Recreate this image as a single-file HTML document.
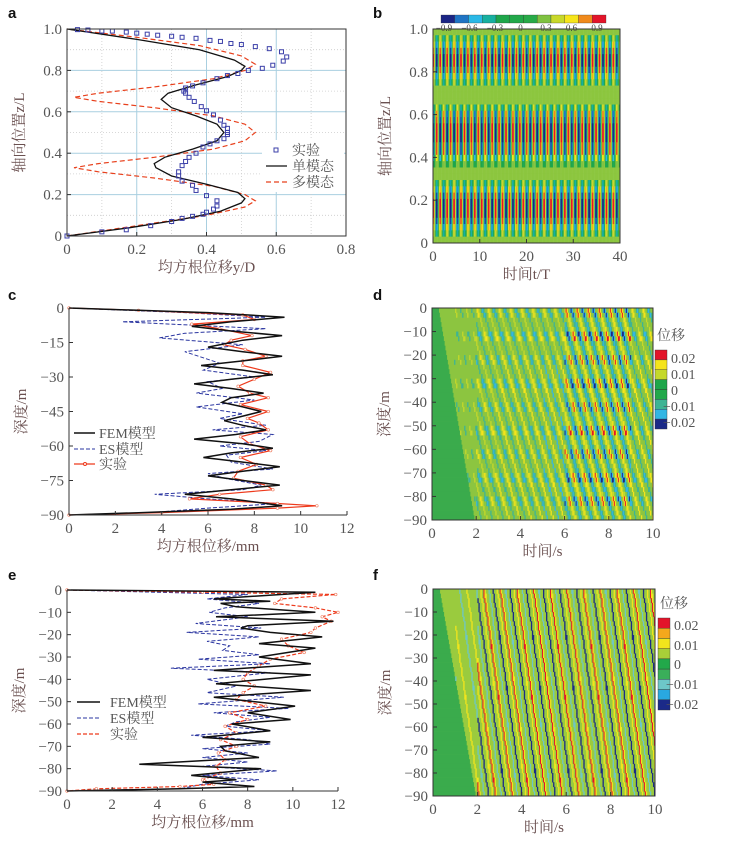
<!DOCTYPE html>
<html><head><meta charset="utf-8"><style>
html,body{margin:0;padding:0;background:#fff;}
svg{display:block;}
text{font-family:"Liberation Serif","Noto Serif CJK SC","Noto Sans CJK SC",serif;}
.tk{font-size:15px;fill:#555;}
.tt{font-size:15px;fill:#6a5050;}
.lt{font-family:"Liberation Sans",sans-serif;font-weight:bold;font-size:15px;fill:#111;}
.lg{font-size:14px;fill:#555;}
</style></head><body>
<svg id="fig" width="730" height="841" viewBox="0 0 730 841" xmlns="http://www.w3.org/2000/svg">
<text class="lt" x="8" y="18">a</text>
<text class="lt" x="373" y="18">b</text>
<text class="lt" x="8" y="300">c</text>
<text class="lt" x="373" y="300">d</text>
<text class="lt" x="8" y="580">e</text>
<text class="lt" x="373" y="580">f</text>
<g id="pa"></g>
<g id="pb"></g>
<g id="pc"></g>
<g id="pd"></g>
<g id="pe"></g>
<g id="pf"></g>
</svg>
<script>
// ---- Panel a data ----
const aSingleZ=[0,0.04,0.08,0.12,0.16,0.18,0.21,0.25,0.29,0.33,0.35,0.38,0.42,0.46,0.5,0.54,0.58,0.62,0.66,0.69,0.73,0.77,0.8,0.82,0.85,0.9,0.95,1.0];
const aSingleX=[0,0.18,0.33,0.44,0.5,0.51,0.49,0.4,0.3,0.255,0.25,0.28,0.36,0.43,0.45,0.43,0.37,0.3,0.27,0.29,0.37,0.46,0.5,0.51,0.48,0.38,0.2,0];
const aMultiZ=[0,0.05,0.1,0.14,0.17,0.2,0.24,0.28,0.31,0.33,0.35,0.38,0.42,0.46,0.5,0.54,0.58,0.62,0.65,0.67,0.69,0.72,0.76,0.8,0.83,0.87,0.92,0.96,1];
const aMultiX=[0,0.2,0.4,0.51,0.54,0.51,0.42,0.25,0.09,0.02,0.09,0.25,0.42,0.51,0.54,0.51,0.42,0.25,0.09,0.02,0.09,0.25,0.42,0.51,0.54,0.5,0.38,0.2,0];
const aExpX=[0.1,0.17,0.24,0.3,0.33,0.36,0.39,0.4,0.42,0.43,0.43,0.4,0.37,0.36,0.33,0.32,0.32,0.33,0.34,0.35,0.37,0.39,0.41,0.43,0.45,0.46,0.46,0.46,0.45,0.44,0.42,0.4,0.385,0.365,0.35,0.34,0.335,0.34,0.36,0.39,0.43,0.46,0.49,0.52,0.56,0.59,0.62,0.63,0.615,0.58,0.54,0.5,0.47,0.44,0.41,0.37,0.33,0.3,0.26,0.23,0.2,0.17,0.13,0.1,0.06,0.03,0];
const aExpZ=[0.02,0.03,0.05,0.07,0.085,0.095,0.105,0.115,0.13,0.145,0.17,0.195,0.22,0.245,0.265,0.29,0.31,0.34,0.36,0.38,0.4,0.43,0.445,0.46,0.47,0.49,0.5,0.52,0.535,0.56,0.585,0.605,0.625,0.65,0.67,0.69,0.7,0.715,0.725,0.74,0.76,0.775,0.785,0.8,0.81,0.825,0.845,0.865,0.89,0.905,0.915,0.925,0.93,0.94,0.945,0.955,0.96,0.965,0.97,0.975,0.98,0.985,0.99,0.99,0.995,0.997,0];
const aXTicks=[0,0.2,0.4,0.6,0.8];
const aYTicks=[0,0.2,0.4,0.6,0.8,1.0];
// ---- Panel b data ----
const bRowAmp=[0.1,0.4,0.75,0.95,1,1,0.9,0.7,0.45,0.2,0.1,0.2,-0.5,-0.8,-0.95,-1,-1,-1,-0.95,-0.85,-0.6,-0.3,0.1,0.2,0.45,0.75,0.95,1,1,1,0.9,0.7,0.45,0.2]; // top to bottom
const bWave=[1,0.85,0.5,0.1,-0.5,-0.85,-1,-0.85,-0.5,-0.1,0.5,0.85];
const bXTicks=[0,10,20,30,40];
const bYTicks=[0,0.2,0.4,0.6,0.8,1.0];
const bCbar=["-0.9","-0.6","-0.3","0","0.3","0.6","0.9"];
// ---- Panel c data ----
const cFemD=[0,-2,-4,-6,-8,-10,-12,-14,-17,-19,-21,-23,-25,-27,-29,-31,-33,-35,-37,-39,-41,-43,-45,-47,-49,-51,-53,-55,-57,-59,-61,-63,-65,-67,-69,-71,-73,-75,-77,-79,-81,-83,-85,-86,-87.5,-89,-90];
const cFemX=[0,6,9.3,7,5.3,7,9.2,7.5,6,7.5,9.2,7.5,5.7,7.5,8.8,7,5.4,7,8.4,7,6.6,7.5,8.3,7.5,6.7,7.5,8.5,7.2,5.4,7.5,8.8,7,5.8,7.5,9.1,7.5,6,7.5,9.1,7,5,7,8.5,9.2,7,3,0];
const cEsD=[0,-2,-4,-6,-9,-11,-13,-16,-19,-21,-24,-27,-30,-32,-35,-37,-40,-43,-46,-48,-51,-53,-55,-58,-60,-62,-64,-67,-70,-72,-74,-77,-79,-81,-83,-85,-87,-89,-90];
const cEsX=[0,5,8.5,2.3,8.5,5,3.9,7.5,5,5.6,6.5,5.8,8,6,6.6,5.5,8,5.5,7.5,6.5,8.5,6.2,8.8,8.2,6.5,8.5,6.8,7,8.8,6,6.7,8.3,7.5,3.7,6,9,6,3.5,0];
const cExpD=[0,-1,-3,-5,-7,-9,-12,-14,-16,-18,-21,-23,-25,-28,-31,-34,-37,-39,-42,-45,-48,-50,-53,-56,-59,-62,-65,-68,-71,-74,-77,-79,-81,-83,-85,-86,-87,-89,-90];
const cExpX=[0,3,7.5,8,5.3,6.5,7.9,7,6.7,7.6,8.5,7.5,7.5,8.7,8,7.3,7.8,8.6,7.4,8.6,7.7,8.2,8.6,7.4,7.8,8.7,7.4,8.1,7.3,7.1,8.5,8.8,6.5,5.2,9,10.7,9,4,0];
const cXTicks=[0,2,4,6,8,10,12];
const cYTicks=[0,-15,-30,-45,-60,-75,-90];
// ---- Panel e data ----
const eFemD=[0,-1,-4,-5,-6,-7.5,-10,-12,-14,-16,-17,-19,-21,-24,-26,-30,-33,-36,-38,-42,-45,-48,-52,-55,-58,-60,-63,-66,-68,-70,-72,-75,-78,-80,-83,-85,-86,-88,-89,-90];
const eFemX=[0,11,6.5,9,6.8,7.5,11,6.6,11.8,8,7.7,9,11.3,8.5,11,8.5,10.8,6.5,10.8,6.6,10.8,6.5,10.1,8,9.9,7.3,9,6,9,6.8,7,8.5,3.2,8.6,5.5,7.5,6,8.3,5,0];
const eEsD=[0,-2,-4,-6,-8,-10,-12,-15,-17,-19,-21,-23,-25,-27,-29,-31,-33,-35,-37,-40,-43,-46,-48,-51,-53,-55,-57,-59,-61,-63,-65,-67,-69,-71,-73,-75,-77,-79,-81,-83,-85,-87,-89,-90];
const eEsX=[0,8,6.2,8.5,7,6.3,8,5.7,8.6,5.3,8.5,6.2,7.2,6.9,8.5,5.8,9,4.6,9,6.2,7.5,6.2,9.6,5.8,9.8,6.5,9,7.5,7,9,5.5,8,9,6,8,6,8,6,9.3,6,8.5,6,5,0];
const eExpD=[0,-1,-2,-4,-6,-8,-10,-12,-14,-17,-19,-22,-25,-28,-31,-34,-37,-40,-43,-46,-49,-52,-55,-58,-61,-64,-67,-70,-73,-76,-79,-82,-85,-87,-88,-89,-90];
const eExpX=[0,6,11.9,9.5,9.2,11,12,11.3,11.7,11,10.8,9.5,9.8,10.5,9,8.5,8,7.8,8.3,7.8,7.5,8.8,7.2,8,7,7.5,6.8,7.5,6.7,7,6.6,6.8,6,6.5,5,1.3,0];
const eXTicks=[0,2,4,6,8,10,12];
const eYTicks=[0,-10,-20,-30,-40,-50,-60,-70,-80,-90];
// ---- Panels d/f data ----
const dTimeAmp=[0.1,0.45,0.65,0.7,0.7,0.75,1,1,0.95,0.7,0.95];
const dDepthBand=[1,0.6,1,0.6,1,0.65,1,0.65,1,0.65,1,0.65,1,0.65,1,0.65,1,0.65];
const fTimeAmp=[0.2,0.7,1,0.95,0.95,0.95,0.95,0.95,0.95,0.95,0.95];
const dWave=[1,0.6,0.1,-0.1,-0.6,-0.95,-0.6,-0.1,0.1,0.6];
const fWave=[1,0.6,0,0,0,-0.6,0,0,0,-1,0,0,0,0.6,0,0];
const dfXTicks=[0,2,4,6,8,10];
const dfYTicks=[0,-10,-20,-30,-40,-50,-60,-70,-80,-90];
const dfCbarLabels=["0.02","0.01","0","\u22120.01","\u22120.02"];

const NS="http://www.w3.org/2000/svg";
function el(parent,tag,attrs,txt){const e=document.createElementNS(NS,tag);for(const k in attrs)e.setAttribute(k,attrs[k]);if(txt!==undefined)e.textContent=txt;parent.appendChild(e);return e;}
function lin(d0,d1,p0,p1){return v=>p0+(v-d0)*(p1-p0)/(d1-d0);}
function fmt(v){return (v<0?"\u2212":"")+Math.abs(v);}
function poly(xs,ys,sx,sy){return xs.map((x,i)=>sx(x).toFixed(1)+","+sy(ys[i]).toFixed(1)).join(" ");}

function axes(g,L,R,T,B,sx,sy,xt,yt,xlab,ylab,xfmt){
  el(g,'rect',{x:L,y:T,width:R-L,height:B-T,fill:'none',stroke:'#333','stroke-width':1});
  const xa=el(g,'g',{});
  xt.forEach(v=>{const x=sx(v);el(xa,'line',{x1:x,x2:x,y1:B,y2:B-4,stroke:'#333'});
    const t=el(xa,'text',{x:x,y:B+18,'text-anchor':'middle',class:'tk'},xfmt?xfmt(v):fmt(v));});
  const ya=el(g,'g',{});
  yt.forEach(v=>{const y=sy(v);el(ya,'line',{x1:L,x2:L+4,y1:y,y2:y,stroke:'#333'});
    const t=el(ya,'text',{x:L-5,y:y+5,'text-anchor':'end',class:'tk'},xfmt?xfmt(v):fmt(v));});
  const xl=el(g,'text',{x:(L+R)/2,y:B+36,'text-anchor':'middle',class:'tt'},xlab);
  const yl=el(g,'text',{x:0,y:0,'text-anchor':'middle',class:'tt',transform:`translate(${L-43},${(T+B)/2}) rotate(-90)`},ylab);
}
function dec1(v){return v===0?"0":v.toFixed(1);}

// ===== Panel a =====
(function(){
 const g=document.getElementById('pa');const L=67,R=346,T=29,B=236;
 const sx=lin(0,0.8,L,R),sy=lin(0,1,B,T);
 [0.2,0.4,0.6].forEach(v=>el(g,'line',{x1:sx(v),x2:sx(v),y1:T,y2:B,stroke:'#a9cfe0','stroke-width':1}));
 [0.2,0.4,0.6,0.8].forEach(v=>el(g,'line',{x1:L,x2:R,y1:sy(v),y2:sy(v),stroke:'#a9cfe0','stroke-width':1}));
 [0.1,0.3,0.5,0.7,0.9].forEach(v=>el(g,'line',{x1:L,x2:R,y1:sy(v),y2:sy(v),stroke:'#ccc','stroke-width':0.8,'stroke-dasharray':'1,2'}));
 [0.1,0.3,0.5,0.7].forEach(v=>el(g,'line',{x1:sx(v),x2:sx(v),y1:T,y2:B,stroke:'#ccc','stroke-width':0.8,'stroke-dasharray':'1,2'}));
 el(g,'rect',{x:262,y:140,width:82,height:52,fill:'#fff'});
 const m=el(g,'polyline',{points:poly(aMultiX,aMultiZ,sx,sy),fill:'none',stroke:'#e8401c','stroke-width':1.2,'stroke-dasharray':'5,3'});
 
 const s=el(g,'polyline',{points:poly(aSingleX,aSingleZ,sx,sy),fill:'none',stroke:'#111','stroke-width':1.3});
 
 aExpX.forEach((x,i)=>{const r=el(g,'rect',{x:sx(x)-2,y:sy(aExpZ[i])-2,width:4,height:4,fill:'none',stroke:'#3b3fa8','stroke-width':1});
   });
 axes(g,L,R,T,B,sx,sy,aXTicks,aYTicks,'均方根位移y/D','轴向位置z/L',dec1);
 g.querySelector('rect').setAttribute('stroke','none');
 el(g,'line',{x1:L,x2:L,y1:T,y2:B,stroke:'#333'});el(g,'line',{x1:L,x2:R,y1:B,y2:B,stroke:'#333'});
 const lg=el(g,'g',{});
 el(lg,'rect',{x:274,y:148,width:4,height:4,fill:'none',stroke:'#3b3fa8'});
 el(lg,'text',{x:292,y:155,class:'lg'},'实验');
 el(lg,'line',{x1:266,x2:287,y1:166,y2:166,stroke:'#111','stroke-width':1.3});
 el(lg,'text',{x:292,y:171,class:'lg'},'单模态');
 el(lg,'line',{x1:266,x2:287,y1:182,y2:182,stroke:'#e8401c','stroke-width':1.2,'stroke-dasharray':'5,3'});
 el(lg,'text',{x:292,y:187,class:'lg'},'多模态');
})();

// ===== Panel b =====
(function(){
 const g=document.getElementById('pb');const L=433,R=620,T=29,B=243;
 const sx=lin(0,40,L,R),sy=lin(0,1,B,T);
 const pal=['#1b2585','#1f74c4','#2ab8e6','#17b0a0','#1ea64a','#22a84a','#8cc63f','#7fc241','#c8d82a','#f6e51b','#f08a1c','#e3142a'];
 function col(v,amp){if(Math.abs(amp)<0.25)return '#8cc63f';let i=Math.floor((v+1)/2*12);return pal[Math.max(0,Math.min(11,i))];}
 const hm=el(g,'g',{});
 const nc=324,nr=bRowAmp.length,cw=(R-L)/nc,rh=(B-T)/nr;
 for(let r=0;r<nr;r++)for(let c=0;c<nc;c++){
   const v=bRowAmp[r]*bWave[c%bWave.length];
   el(hm,'rect',{x:(L+c*cw).toFixed(2),y:(T+r*rh).toFixed(2),width:(cw+0.3).toFixed(2),height:(rh+0.3).toFixed(2),fill:col(v,bRowAmp[r])});
 }
 axes(g,L,R,T,B,sx,sy,bXTicks,bYTicks,'时间t/T','轴向位置z/L',v=>v===0?'0':(v>=10?String(v):v.toFixed(1)));
 const cb=el(g,'g',{});
 const cx0=441,cx1=606,cwid=(cx1-cx0)/12;
 const cpal=['#1b2585','#1f74c4','#2ab8e6','#17b0a0','#1ea64a','#22a84a','#28aa48','#7fc241','#c8d82a','#f6e51b','#f08a1c','#e3142a'];
 cpal.forEach((p,i)=>el(cb,'rect',{x:cx0+i*cwid,y:15,width:cwid,height:8,fill:p,stroke:'#333','stroke-width':0.3}));
 bCbar.forEach((t,i)=>el(cb,'text',{x:cx0+3+i*(cx1-cx0-12)/6,y:31,'text-anchor':'middle',style:'font-size:9px;fill:#444'},t.replace('-','\u2212')));
})();

// ===== line panels c,e =====
function linePanel(id,L,R,T,B,xt,yt,fem,es,exp,expDash){
 const g=document.getElementById(id);
 const sx=lin(0,12,L,R),sy=lin(0,-90,T,B);
 const e1=el(g,'polyline',{points:poly(es[1],es[0],sx,sy),fill:'none',stroke:'#2a35a0','stroke-width':1,'stroke-dasharray':'4,2'});
 
 const e2=el(g,'polyline',{points:poly(exp[1],exp[0],sx,sy),fill:'none',stroke:'#ee3a1c','stroke-width':1.2,'stroke-dasharray':expDash||'none'});
 
 exp[1].forEach((x,i)=>el(g,'circle',{cx:sx(x),cy:sy(exp[0][i]),r:1.3,fill:'#fff',stroke:'#ee7a5c','stroke-width':0.6}));
 const e3=el(g,'polyline',{points:poly(fem[1],fem[0],sx,sy),fill:'none',stroke:'#111','stroke-width':1.5});
 
 axes(g,L,R,T,B,sx,sy,xt,yt,'均方根位移/mm','深度/m');
 g.querySelector('rect').setAttribute('stroke','none');
 el(g,'line',{x1:L,x2:L,y1:T,y2:B,stroke:'#333'});el(g,'line',{x1:L,x2:R,y1:B,y2:B,stroke:'#333'});
 return g;
}
(function(){
 const g=linePanel('pc',69,347,308,515,cXTicks,cYTicks,[cFemD,cFemX],[cEsD,cEsX],[cExpD,cExpX]);
 const lg=el(g,'g',{});
 el(lg,'line',{x1:74,x2:95,y1:433,y2:433,stroke:'#111','stroke-width':1.5});el(lg,'text',{x:99,y:438,class:'lg'},'FEM模型');
 el(lg,'line',{x1:74,x2:95,y1:449,y2:449,stroke:'#2a35a0','stroke-dasharray':'4,2'});el(lg,'text',{x:99,y:454,class:'lg'},'ES模型');
 el(lg,'line',{x1:74,x2:95,y1:464,y2:464,stroke:'#ee3a1c','stroke-width':1.2});el(lg,'circle',{cx:85,cy:464,r:1.5,fill:'#fff',stroke:'#ee3a1c'});el(lg,'text',{x:99,y:469,class:'lg'},'实验');
})();
(function(){
 const g=linePanel('pe',67,338,590,791,eXTicks,eYTicks,[eFemD,eFemX],[eEsD,eEsX],[eExpD,eExpX],'4,2');
 const lg=el(g,'g',{});
 el(lg,'line',{x1:77,x2:100,y1:702,y2:702,stroke:'#111','stroke-width':1.5});el(lg,'text',{x:110,y:707,class:'lg'},'FEM模型');
 el(lg,'line',{x1:77,x2:100,y1:718,y2:718,stroke:'#2a35a0','stroke-dasharray':'4,2'});el(lg,'text',{x:110,y:723,class:'lg'},'ES模型');
 el(lg,'line',{x1:77,x2:100,y1:734,y2:734,stroke:'#ee3a1c','stroke-width':1.2,'stroke-dasharray':'4,2'});el(lg,'text',{x:110,y:739,class:'lg'},'实验');
})();

// ===== heatmaps d,f =====
function dfPanel(id,L,R,T,B,timeAmp,band,wave,period,slope,pal,cb,cbLabY){
 const g=document.getElementById(id);
 const sx=lin(0,10,L,R),sy=lin(0,-90,T,B);
 const hm=el(g,'g',{});
 el(hm,'rect',{x:L,y:T,width:R-L,height:B-T,fill:pal.bg});
 const nc=220,nr=45,cw=(R-L)/nc,rh=(B-T)/nr;
 for(let r=0;r<nr;r++){const depth=(r+0.5)*90/nr;
  const arrive=0.3+depth/55;
  el(hm,'rect',{x:L,y:(T+r*rh).toFixed(2),width:(arrive*(R-L)/10).toFixed(2),height:(rh+0.3).toFixed(2),fill:pal.early});
  for(let c=0;c<nc;c++){const t=(c+0.5)*10/nc;
   if(t<arrive)continue;
   const amp=timeAmp[Math.min(10,Math.floor(t))]*(band?band[Math.floor(depth/5)%band.length]:1);
   const ph=(t-depth*slope)/period;
   const idx=((Math.floor(ph*wave.length))%wave.length+wave.length)%wave.length;
   const v=amp*wave[idx];
   const f=pal.map(v);
   if(f)el(hm,'rect',{x:(L+c*cw).toFixed(2),y:(T+r*rh).toFixed(2),width:(cw+0.3).toFixed(2),height:(rh+0.3).toFixed(2),fill:f});
 }}
 axes(g,L,R,T,B,sx,sy,dfXTicks,dfYTicks,'时间/s','深度/m');
 const c=el(g,'g',{});
 const h=(cb.y1-cb.y0)/cb.cols.length;
 cb.cols.forEach((p,i)=>el(c,'rect',{x:cb.x,y:cb.y0+i*h,width:12,height:h,fill:p,stroke:'#333','stroke-width':0.4}));
 el(c,'text',{x:cb.x+2,y:cb.y0-10,class:'lg'},'位移');
 dfCbarLabels.forEach((t,i)=>el(c,'text',{x:cb.x+(t.startsWith('\u2212')?8:16),y:cbLabY[i],class:'tk',style:'font-size:14px'},t));
}
dfPanel('pd',432,653,308,520,dTimeAmp,dDepthBand,dWave,0.5,0.033,{bg:'#8cc540',early:'#3aab4c',map:v=>v>0.85?'#e3142a':v>0.45?'#f5e41c':v>0.3?'#c5d82a':v<-0.8?'#1b2a88':v<-0.45?'#33b6e4':v<-0.3?'#3eb494':null},
 {x:655,y0:350,y1:429,cols:['#e3142a','#f5e41c','#c5d82a','#1ea64a','#22a84a','#3eb494','#33b6e4','#1b2a88']},[363,379,395,411,427]);
dfPanel('pf',433,655,589,796,fTimeAmp,null,fWave,0.75,0.0145,{bg:'#9acb3e',early:'#3aab4c',map:v=>v>0.85?'#e3142a':v>0.5?'#f2e51c':v<-0.85?'#1b2a88':v<-0.5?'#6dc6c8':null},
 {x:658,y0:618,y1:710,cols:['#e3142a','#f5a81c','#f2e51c','#a8cf38','#22a84a','#3aae5a','#6dc6c8','#29a8e0','#1b2a88']},[630,650,669,689,709]);
</script>
</body></html>
